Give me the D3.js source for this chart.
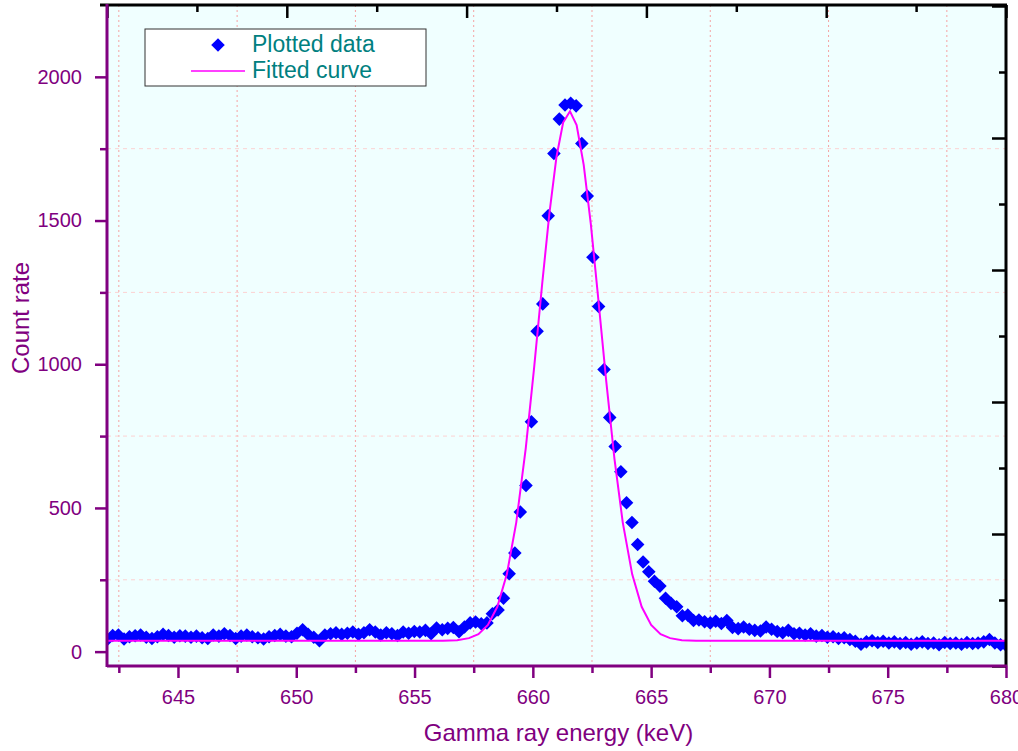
<!DOCTYPE html>
<html>
<head>
<meta charset="utf-8">
<script src="https://cdn.jsdelivr.net/npm/d3@7"></script>
<style>
  body { margin: 0; background: #ffffff; }
  svg text { font-family: "Liberation Sans", Arial, sans-serif; }
</style>
</head>
<body>
<div id="chart"></div>
<script>
// channel energies (keV)
const energy = [
  642.01, 642.24, 642.48, 642.72, 642.95, 643.19, 643.42, 643.66, 643.90, 644.13,
  644.37, 644.60, 644.84, 645.08, 645.31, 645.55, 645.78, 646.02, 646.26, 646.49,
  646.73, 646.96, 647.20, 647.44, 647.67, 647.91, 648.14, 648.38, 648.62, 648.85,
  649.09, 649.32, 649.56, 649.80, 650.03, 650.27, 650.50, 650.74, 650.98, 651.21,
  651.45, 651.68, 651.92, 652.16, 652.39, 652.63, 652.86, 653.10, 653.34, 653.57,
  653.81, 654.04, 654.28, 654.52, 654.75, 654.99, 655.22, 655.46, 655.70, 655.93,
  656.17, 656.40, 656.64, 656.88, 657.11, 657.35, 657.58, 657.82, 658.06, 658.29,
  658.53, 658.76, 659.00, 659.24, 659.47, 659.71, 659.94, 660.18, 660.42, 660.65,
  660.89, 661.12, 661.36, 661.60, 661.83, 662.07, 662.30, 662.54, 662.78, 663.01,
  663.25, 663.48, 663.72, 663.96, 664.19, 664.43, 664.66, 664.90, 665.14, 665.37,
  665.61, 665.84, 666.08, 666.32, 666.55, 666.79, 667.02, 667.26, 667.50, 667.73,
  667.97, 668.20, 668.44, 668.68, 668.91, 669.15, 669.38, 669.62, 669.86, 670.09,
  670.33, 670.56, 670.80, 671.04, 671.27, 671.51, 671.74, 671.98, 672.22, 672.45,
  672.69, 672.92, 673.16, 673.40, 673.63, 673.87, 674.10, 674.34, 674.58, 674.81,
  675.05, 675.28, 675.52, 675.76, 675.99, 676.23, 676.46, 676.70, 676.94, 677.17,
  677.41, 677.64, 677.88, 678.12, 678.35, 678.59, 678.82, 679.06, 679.30, 679.53,
  679.77, 680.00
]

// measured count rate per channel
const counts = [
  42, 56, 58, 44, 52, 55, 58, 50, 46, 52,
  60, 56, 50, 55, 54, 50, 54, 48, 46, 58,
  54, 62, 56, 46, 54, 58, 52, 48, 44, 52,
  56, 60, 54, 52, 64, 76, 60, 50, 38, 58,
  62, 66, 60, 64, 68, 60, 66, 76, 68, 58,
  66, 62, 56, 68, 64, 70, 68, 74, 62, 82,
  76, 81, 84, 69, 86, 100, 103, 97, 100, 132,
  145, 186, 271, 343, 486, 578, 800, 1115, 1210, 1517,
  1733, 1853, 1902, 1908, 1899, 1768, 1585, 1372, 1201, 982,
  815, 714, 626, 518, 449, 373, 312, 278, 245, 228,
  186, 168, 156, 125, 127, 108, 110, 104, 100, 106,
  98, 108, 84, 80, 86, 78, 74, 72, 86, 78,
  70, 66, 74, 62, 64, 58, 62, 54, 56, 50,
  52, 46, 48, 42, 36, 26, 34, 38, 32, 36,
  30, 34, 28, 32, 26, 30, 34, 28, 30, 24,
  32, 28, 30, 26, 32, 28, 30, 34, 42, 30,
  24, 22
]

// fitted curve
const fitEnergy = [642.0, 654.0, 655.5, 656.2, 656.8, 657.3, 657.7, 658.1, 658.5, 658.9,
  659.3, 659.7, 660.05, 660.4, 660.7, 661.0, 661.28, 661.57, 661.85, 662.15,
  662.45, 662.75, 663.1, 663.45, 663.8, 664.2, 664.6, 665.0, 665.4, 665.8,
  666.3, 666.9, 667.6, 680.0]
const fitCounts = [38, 38, 38, 38, 40, 47, 61, 93, 156, 269,
  450, 707, 985, 1284, 1525, 1722, 1841, 1880, 1832, 1694,
  1488, 1241, 943, 671, 450, 269, 156, 93, 61, 47,
  40, 38, 38, 38]

// ticks
const xMajorTicks = [645, 650, 655, 660, 665, 670, 675, 680]
const xMinorTicks = [642.5, 647.5, 652.5, 657.5, 662.5, 667.5, 672.5, 677.5]
const yMajorTicks = [0, 500, 1000, 1500, 2000]
const yMinorTicks = [250, 750, 1250, 1750]
const frameMajorTicks = [0, 1, 2, 3, 4, 5]
const frameMinorTicks = [0.5, 1.5, 2.5, 3.5, 4.5]

const legendLabels = ["Plotted data", "Fitted curve"]
const xTitle = "Gamma ray energy (keV)"
const yTitle = "Count rate"

const width = 1018,
    height = 751;
const plotLeft = 107, plotRight = 1006, plotTop = 5, plotBottom = 666;
const purple = "#800080";

const svg = d3.select("#chart")
  .append("svg")
    .attr("width", width)
    .attr("height", height)

const x = d3.scaleLinear().domain([642, 680]).range([plotLeft, plotRight])
const y = d3.scaleLinear().domain([-50, 2250]).range([plotBottom, plotTop])
// unlabelled top / right frame axes
const xTop = d3.scaleLinear().domain([0, 5]).range([plotLeft, plotRight])
const yRight = d3.scaleLinear().domain([0, 5]).range([plotBottom, plotTop + 1])

// plot background
svg.append("rect")
    .attr("x", plotLeft).attr("y", plotTop)
    .attr("width", plotRight - plotLeft).attr("height", plotBottom - plotTop)
    .attr("fill", "#f0ffff")

// grid lines
svg.append("g")
  .selectAll("line")
  .data(xMinorTicks)
  .join("line")
    .attr("x1", d => x(d)).attr("x2", d => x(d))
    .attr("y1", plotTop).attr("y2", plotBottom)
    .attr("stroke", "#f5a3a3")
    .attr("stroke-dasharray", "2,3")

svg.append("g")
  .selectAll("line")
  .data(yMinorTicks)
  .join("line")
    .attr("x1", plotLeft).attr("x2", plotRight)
    .attr("y1", d => y(d)).attr("y2", d => y(d))
    .attr("stroke", "#fcd2d2")
    .attr("stroke-dasharray", "4,4")

svg.append("clipPath").attr("id", "plot-clip")
  .append("rect")
    .attr("x", plotLeft).attr("y", plotTop)
    .attr("width", plotRight - plotLeft).attr("height", plotBottom - plotTop)

const plot = svg.append("g").attr("clip-path", "url(#plot-clip)")

// data points as rotated squares
const diamond = d3.symbol().type(d3.symbolSquare).size(92)

plot.append("g")
  .selectAll("path")
  .data(d3.zip(energy, counts))
  .join("path")
    .attr("d", diamond)
    .attr("transform", d => `translate(${x(d[0])},${y(d[1])}) rotate(45)`)
    .attr("fill", "#0000ff")

// fitted curve on top
const line = d3.line()
  .x(d => x(d[0]))
  .y(d => y(d[1]))

plot.append("path")
    .datum(d3.zip(fitEnergy, fitCounts))
    .attr("d", line)
    .attr("fill", "none")
    .attr("stroke", "#ff00ff")
    .attr("stroke-width", 2)

// axes helper: ticks only, frame line drawn separately
function styleAxis(g, color) {
  g.select(".domain").remove()
  g.selectAll("line").attr("stroke", color).attr("stroke-width", 2.5)
  g.selectAll("text")
    .attr("fill", purple)
    .style("font-size", "20px")
    .style("font-family", '"Liberation Sans", Arial, sans-serif')
}

// bottom axis
svg.append("g")
    .attr("transform", `translate(0,${plotBottom})`)
    .call(d3.axisBottom(x).tickValues(xMinorTicks).tickSize(7).tickFormat(""))
    .call(g => styleAxis(g, purple))
svg.append("g")
    .attr("transform", `translate(0,${plotBottom})`)
    .call(d3.axisBottom(x).tickValues(xMajorTicks).tickSize(12).tickPadding(12).tickFormat(d3.format("d")))
    .call(g => styleAxis(g, purple))

// left axis
svg.append("g")
    .attr("transform", `translate(${plotLeft},0)`)
    .call(d3.axisLeft(y).tickValues(yMinorTicks).tickSize(7).tickFormat(""))
    .call(g => styleAxis(g, purple))
svg.append("g")
    .attr("transform", `translate(${plotLeft},0)`)
    .call(d3.axisLeft(y).tickValues(yMajorTicks).tickSize(12).tickPadding(13).tickFormat(d3.format("d")))
    .call(g => styleAxis(g, purple))

// top frame, ticks pointing in
svg.append("g")
    .attr("transform", `translate(0,${plotTop})`)
    .call(d3.axisBottom(xTop).tickValues(frameMinorTicks).tickSize(7).tickFormat(""))
    .call(g => styleAxis(g, "#000"))
svg.append("g")
    .attr("transform", `translate(0,${plotTop})`)
    .call(d3.axisBottom(xTop).tickValues(frameMajorTicks).tickSize(13).tickFormat(""))
    .call(g => styleAxis(g, "#000"))

// right frame, ticks pointing in
svg.append("g")
    .attr("transform", `translate(${plotRight},0)`)
    .call(d3.axisLeft(yRight).tickValues(frameMinorTicks).tickSize(7).tickFormat(""))
    .call(g => styleAxis(g, "#000"))
svg.append("g")
    .attr("transform", `translate(${plotRight},0)`)
    .call(d3.axisLeft(yRight).tickValues(frameMajorTicks).tickSize(14).tickFormat(""))
    .call(g => styleAxis(g, "#000"))

// frame lines
svg.append("line")
    .attr("x1", plotLeft - 7).attr("x2", plotRight + 1)
    .attr("y1", plotTop).attr("y2", plotTop)
    .attr("stroke", "#000").attr("stroke-width", 3)
svg.append("line")
    .attr("x1", plotRight).attr("x2", plotRight)
    .attr("y1", plotTop).attr("y2", plotBottom)
    .attr("stroke", "#000").attr("stroke-width", 3)
svg.append("line")
    .attr("x1", plotLeft).attr("x2", plotRight + 1)
    .attr("y1", plotBottom).attr("y2", plotBottom)
    .attr("stroke", purple).attr("stroke-width", 3)
svg.append("line")
    .attr("x1", plotLeft).attr("x2", plotLeft)
    .attr("y1", plotTop - 1).attr("y2", plotBottom + 1)
    .attr("stroke", purple).attr("stroke-width", 3)

// axis titles
svg.append("text")
    .attr("x", (plotLeft + plotRight) / 2 + 2)
    .attr("y", 741)
    .attr("text-anchor", "middle")
    .attr("fill", purple)
    .style("font-size", "24px")
    .text(xTitle)

svg.append("text")
    .attr("transform", `translate(29,318) rotate(-90)`)
    .attr("text-anchor", "middle")
    .attr("fill", purple)
    .style("font-size", "24px")
    .text(yTitle)

// legend
const legend = svg.append("g").attr("transform", "translate(145,29)")

legend.append("rect")
    .attr("width", 281).attr("height", 57)
    .attr("fill", "#ffffff")
    .attr("stroke", "#333333")
    .attr("stroke-width", 1)

legend.append("path")
    .attr("d", diamond)
    .attr("transform", "translate(73,16) rotate(45)")
    .attr("fill", "#0000ff")

legend.append("line")
    .attr("x1", 46).attr("x2", 100)
    .attr("y1", 42).attr("y2", 42)
    .attr("stroke", "#ff00ff")
    .attr("stroke-width", 1.5)

legend.selectAll("text.label")
  .data(legendLabels)
  .join("text")
    .attr("class", "label")
    .attr("x", 107)
    .attr("y", (d, i) => 23 + i * 26)
    .attr("fill", "#008080")
    .style("font-size", "23px")
    .text(d => d)
</script>
</body>
</html>
